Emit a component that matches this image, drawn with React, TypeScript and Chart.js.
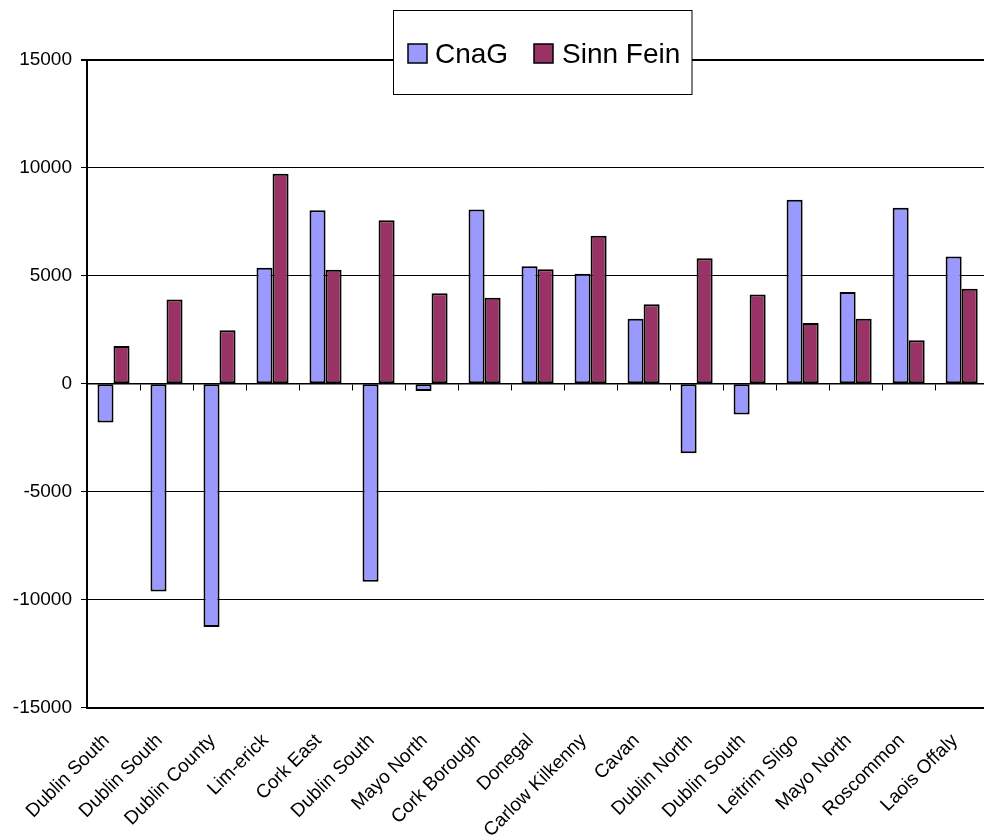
import React, { useEffect, useRef } from 'react';
import { Chart, registerables } from 'chart.js';

Chart.register(...registerables);

const categories = [
  'Dublin South', 'Dublin South', 'Dublin County', 'Lim-erick', 'Cork East',
  'Dublin South', 'Mayo North', 'Cork Borough', 'Donegal', 'Carlow Kilkenny',
  'Cavan', 'Dublin North', 'Dublin South', 'Leitrim Sligo', 'Mayo North',
  'Roscommon', 'Laois Offaly',
];
const cnagValues = [-1800, -9630, -11270, 5370, 8040, -9170, -340, 8070, 5440, 5100, 3010, -3220, -1420, 8530, 4250, 8160, 5900];
const sinnFeinValues = [1750, 3900, 2480, 9730, 5280, 7580, 4190, 3990, 5310, 6860, 3680, 5820, 4140, 2810, 3010, 2010, 4400];
const seriesNames = ['CnaG', 'Sinn Fein'];
const yMin = -15000;
const yMax = 15000;
const yStep = 5000;

const FONT = '"Liberation Sans", Arial, sans-serif';

const legendBox = {
  id: 'legendBox',
  afterDraw(chart: any) {
    const ctx = chart.ctx as CanvasRenderingContext2D;
    ctx.save();
    ctx.fillStyle = '#ffffff';
    ctx.fillRect(393.5, 10.5, 298.5, 84);
    ctx.strokeStyle = '#000000';
    ctx.lineWidth = 1;
    ctx.strokeRect(393.5, 10.5, 298.5, 84);
    const pos = [{ sx: 408, tx: 435 }, { sx: 534, tx: 562 }];
    ctx.font = `28px ${FONT}`;
    ctx.textBaseline = 'alphabetic';
    ctx.textAlign = 'left';
    chart.data.datasets.forEach((ds: any, i: number) => {
      const p = pos[i];
      ctx.fillStyle = ds.backgroundColor;
      ctx.fillRect(p.sx, 44, 19, 19);
      ctx.lineWidth = 1.5;
      ctx.strokeStyle = '#000';
      ctx.strokeRect(p.sx, 44, 19, 19);
      ctx.fillStyle = '#000';
      ctx.fillText(ds.label, p.tx, 62.5);
    });
    ctx.restore();
  },
};

export default function App() {
  const canvasRef = useRef<HTMLCanvasElement | null>(null);

  useEffect(() => {
    if (!canvasRef.current) return;
    const chart = new Chart(canvasRef.current, {
      type: 'bar',
      data: {
        labels: categories,
        datasets: [
          {
            label: seriesNames[0],
            data: cnagValues,
            backgroundColor: '#9999FF',
            borderColor: '#000000',
            borderWidth: 2,
            borderSkipped: false,
            categoryPercentage: 0.605,
            barPercentage: 1,
          },
          {
            label: seriesNames[1],
            data: sinnFeinValues,
            backgroundColor: '#993366',
            borderColor: '#000000',
            borderWidth: 2,
            borderSkipped: false,
            categoryPercentage: 0.605,
            barPercentage: 1,
          },
        ],
      },
      options: {
        animation: false,
        responsive: true,
        maintainAspectRatio: false,
        devicePixelRatio: 1,
        layout: { padding: { top: 60, right: 7.5, left: 0, bottom: 0 } },
        plugins: {
          legend: { display: false },
          tooltip: { enabled: false },
          title: { display: false },
        },
        scales: {
          x: {
            type: 'category',
            position: 'bottom',
            offset: true,
            grid: { display: false, offset: true, drawTicks: false },
            border: { display: true, color: '#000', width: 2 },
            ticks: {
              color: '#000',
              font: { size: 19, family: FONT },
              maxRotation: 45,
              minRotation: 45,
              padding: 22,
              labelOffset: -7,
              autoSkip: false,
            },
            afterFit: (s: any) => { s.height = 128.5; },
          },
          x2: {
            type: 'category',
            axis: 'x',
            labels: categories,
            position: { y: 0 },
            offset: true,
            grid: {
              display: true,
              offset: true,
              drawOnChartArea: false,
              drawTicks: true,
              tickLength: 6,
              color: '#000',
              lineWidth: 1,
            },
            border: { display: true, color: '#000', width: 1.5 },
            ticks: { display: false },
          },
          y: {
            min: yMin,
            max: yMax,
            ticks: {
              stepSize: yStep,
              color: '#000',
              font: { size: 19, family: FONT },
              padding: 9,
              callback: (v: any) => String(v),
            },
            grid: {
              color: '#000',
              lineWidth: (c: any) => (c.tick && c.tick.value === yMax ? 2 : 1),
              tickLength: 6,
              drawTicks: true,
            },
            border: { display: true, color: '#000', width: 2 },
            afterFit: (s: any) => { s.width = 87; },
          },
        },
      },
      plugins: [legendBox],
    } as any);
    return () => chart.destroy();
  }, []);

  return (
    <div style={{ position: 'fixed', left: 0, top: 0, width: 984, height: 836, overflow: 'hidden', background: '#fff' }}>
      <div style={{ position: 'relative', width: 1000, height: 836 }}>
        <canvas ref={canvasRef} />
      </div>
    </div>
  );
}
